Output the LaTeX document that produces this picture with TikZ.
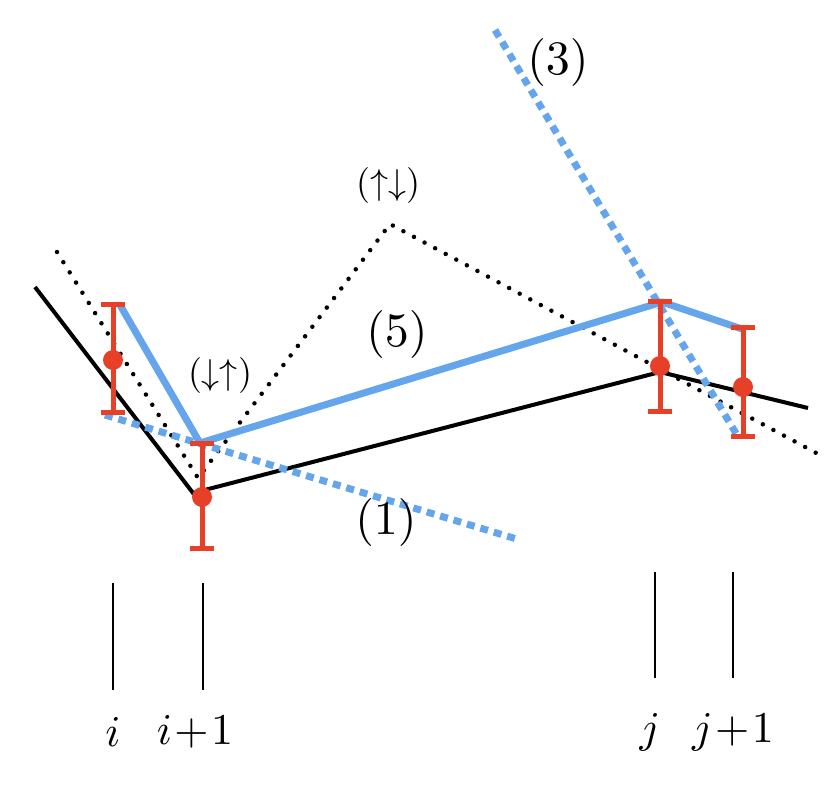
\documentclass[tikz,border=0pt]{standalone}
\begin{document}
\begin{tikzpicture}[x=1pt,y=-1pt,
  blk/.style={line width=4pt,black},
  dot/.style={line width=4.5pt,black,dash pattern=on 0pt off 12pt,line cap=round},
  blu/.style={line width=7pt,color={rgb,255:red,100;green,165;blue,235},line join=round},
  bdash/.style={line width=7pt,color={rgb,255:red,100;green,165;blue,235},dash pattern=on 8pt off 6pt},
  err/.style={line width=5pt,color={rgb,255:red,230;green,65;blue,40}},
  tick/.style={line width=2.5pt,black},
  lab/.style={scale=4.4},
  big/.style={scale=4.8},
  mid/.style={scale=3.6}]
\useasboundingbox (0,0) rectangle (831,788);
% black solid
\coordinate (a1) at (35,287); \coordinate (a2) at (193,493);
\coordinate (a3) at (660,372); \coordinate (a4) at (808,408);
\draw[blk] (a1)--(a2)--(a3)--(a4);
% black dotted
\coordinate (d1) at (57,252); \coordinate (d2) at (198,478);
\coordinate (d3) at (390,224); \coordinate (d4) at (820,455);
\draw[dot] (d1)--(d2)--(d3)--(d4);
% blue dashed
\coordinate (p1) at (105,415); \coordinate (p2) at (520,540);
\draw[bdash] (p1)--(p2);
\coordinate (q1) at (495,30); \coordinate (q2) at (737,435);
\draw[bdash] (q1)--(q2);
% blue solid
\coordinate (b1) at (120,305); \coordinate (b2) at (200,443);
\coordinate (b3) at (662,302); \coordinate (b4) at (745,330);
\draw[blu] (b1)--(b2)--(b3)--(b4);
% error bars
\foreach \n/\x/\t/\b/\m in {e1/113/304/412/360, e2/202/443/548/497, e3/660/301/411/366, e4/743/327/436/387}{
  \draw[err] (\x,\t) coordinate(\n t) -- (\x,\b) coordinate(\n b);
  \draw[err] ([xshift=-12pt]\n t) -- ([xshift=12pt]\n t);
  \draw[err] ([xshift=-12pt]\n b) -- ([xshift=12pt]\n b);
  \fill[color={rgb,255:red,230;green,65;blue,40}] (\x,\m) circle (10pt);
}
% labels
\node[mid] (lud) at (388,185) {$(\uparrow\downarrow)$};
\node[mid] (ldu) at (220,375) {$(\downarrow\uparrow)$};
\node[big] (l5) at (397,334) {$(5)$};
\node[big] (l1) at (386,522) {$(1)$};
\node[big] (l3) at (558,62) {$(3)$};
% ticks
\draw[tick] (113,583) coordinate (t1a) -- (113,690) coordinate (t1b);
\draw[tick] (203,583) coordinate (t2a) -- (203,690) coordinate (t2b);
\draw[tick] (655,572) coordinate (t3a) -- (655,678) coordinate (t3b);
\draw[tick] (733,572) coordinate (t4a) -- (733,678) coordinate (t4b);
\node[lab] (ni) at (113,732) {$i$};
\node[lab] (ni1) at (195,732) {$i\!+\!1$};
\node[lab] (nj) at (650,732) {$j$};
\node[lab] (nj1) at (733,732) {$j\!+\!1$};
\end{tikzpicture}
\end{document}
